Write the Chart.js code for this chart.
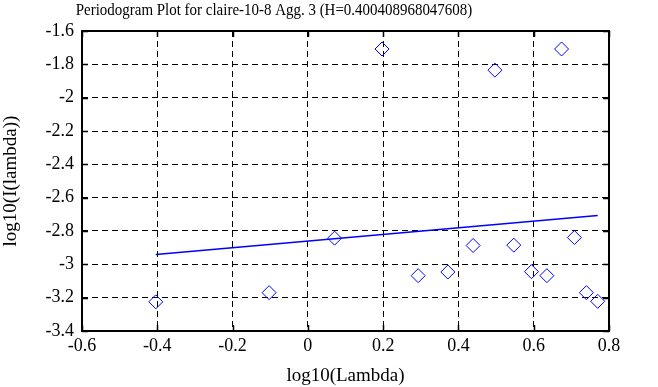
<!DOCTYPE html>
<html>
<head>
<meta charset="utf-8">
<script src="https://cdn.jsdelivr.net/npm/chart.js@4/dist/chart.umd.min.js"></script>
<style>
  html, body { margin: 0; padding: 0; background: #fff; }
  #wrap { width: 658px; height: 387px; position: relative; }
</style>
</head>
<body>
<div id="wrap"><canvas id="pgram"></canvas></div>
<script>
// periodogram points
const logLambda = [-0.404, -0.103, 0.071, 0.197, 0.293, 0.372, 0.439, 0.497, 0.547, 0.594, 0.635, 0.674, 0.708, 0.740, 0.770];
const logI = [-3.225, -3.170, -2.843, -1.708, -3.068, -3.046, -2.887, -1.835, -2.885, -3.044, -3.068, -1.708, -2.839, -3.170, -3.222];

// fitted line end points
const fitX = [-0.404, 0.770];
const fitY = [-2.941, -2.707];

const xTicks = [-0.6, -0.4, -0.2, 0, 0.2, 0.4, 0.6, 0.8];
const yTicks = [-1.6, -1.8, -2, -2.2, -2.4, -2.6, -2.8, -3, -3.2, -3.4];

const titleText = "Periodogram Plot for claire-10-8 Agg. 3 (H=0.400408968047608)";
const FONT = "'Liberation Serif', 'Times New Roman', serif";

// draws the plot frame, inward ticks and the title
const framePlugin = {
	id: "frame",
	afterDraw(chart) {
		const { ctx, chartArea: a, scales } = chart;
		ctx.save();
		ctx.strokeStyle = "#000";
		ctx.lineWidth = 2;
		ctx.strokeRect(a.left, a.top, a.right - a.left, a.bottom - a.top);
		ctx.lineWidth = 1.5;
		ctx.beginPath();
		xTicks.forEach((v) => {
			const px = Math.round(scales.x.getPixelForValue(v)) + 0.5;
			ctx.moveTo(px, a.top); ctx.lineTo(px, a.top + 6);
			ctx.moveTo(px, a.bottom); ctx.lineTo(px, a.bottom - 6);
		});
		yTicks.forEach((v) => {
			const py = Math.round(scales.y.getPixelForValue(v)) + 0.5;
			ctx.moveTo(a.left, py); ctx.lineTo(a.left + 6, py);
			ctx.moveTo(a.right, py); ctx.lineTo(a.right - 6, py);
		});
		ctx.stroke();

		// title, squeezed a little to the original's width
		ctx.fillStyle = "#000";
		ctx.font = "17px " + FONT;
		ctx.textAlign = "center";
		ctx.textBaseline = "alphabetic";
		ctx.translate(274, 15);
		ctx.scale(0.88, 1);
		ctx.fillText(titleText, 0, 0);
		ctx.restore();
	},
};

const ctx = document.getElementById("pgram").getContext("2d");
new Chart(ctx, {
	type: "scatter",
	data: {
		datasets: [
			{
				label: "periodogram",
				data: logLambda.map((x, i) => ({ x, y: logI[i] })),
				pointStyle: "rectRot",
				pointRadius: 7,
				pointBorderColor: "#0000ff",
				pointBackgroundColor: "rgba(0,0,0,0)",
				pointBorderWidth: 1,
				showLine: false,
			},
			{
				label: "fit",
				data: fitX.map((x, i) => ({ x, y: fitY[i] })),
				showLine: true,
				borderColor: "#0000ff",
				borderWidth: 1.5,
				pointRadius: 0,
			},
		],
	},
	options: {
		responsive: true,
		maintainAspectRatio: false,
		animation: false,
		layout: { padding: { top: 31, right: 49, left: 0, bottom: 0 } },
		scales: {
			x: {
				type: "linear",
				min: -0.6,
				max: 0.8,
				afterFit: (s) => { s.height = 56; },
				afterBuildTicks: (s) => { s.ticks = xTicks.map((v) => ({ value: v })); },
				ticks: {
					color: "#000",
					font: { family: FONT, size: 18 },
					padding: 4,
					callback: (v) => String(Math.round(v * 10) / 10),
				},
				grid: { color: "#000", lineWidth: 1, drawTicks: false },
				border: { display: false, dash: [6, 4] },
				title: {
					display: true,
					text: "log10(Lambda)",
					color: "#000",
					font: { family: FONT, size: 19 },
					padding: { top: 1, bottom: 0 },
				},
			},
			y: {
				type: "linear",
				min: -3.4,
				max: -1.6,
				afterFit: (s) => { s.width = 82; },
				afterBuildTicks: (s) => { s.ticks = yTicks.map((v) => ({ value: v })); },
				ticks: {
					color: "#000",
					font: { family: FONT, size: 18 },
					padding: 8,
					callback: (v) => String(Math.round(v * 10) / 10),
				},
				grid: { color: "#000", lineWidth: 1, drawTicks: false },
				border: { display: false, dash: [6, 4] },
				title: {
					display: true,
					text: "log10(I(lambda))",
					color: "#000",
					font: { family: FONT, size: 19 },
					padding: { top: 0, bottom: 4 },
				},
			},
		},
		plugins: {
			legend: { display: false },
			tooltip: { enabled: false },
			title: { display: false },
		},
	},
	plugins: [framePlugin],
});
</script>
</body>
</html>
